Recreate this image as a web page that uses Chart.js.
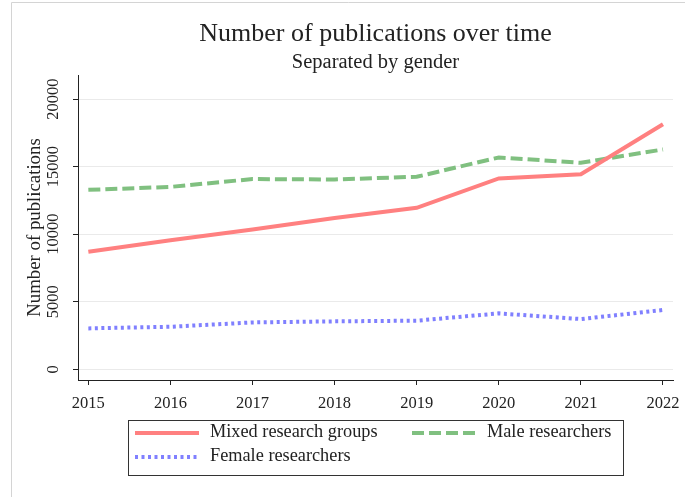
<!DOCTYPE html>
<html>
<head>
<meta charset="utf-8">
<script src="https://cdn.jsdelivr.net/npm/chart.js@4"></script>
<style>
  html, body { margin: 0; padding: 0; background: #fff; }
  canvas { display: block; }
</style>
</head>
<body>
<canvas id="pubChart" width="685" height="497"></canvas>
<script>
// ── data ──────────────────────────────────────────────────────────────────────
const years   = [2015, 2016, 2017, 2018, 2019, 2020, 2021, 2022];
const mixed   = [8700, 9550, 10350, 11200, 11950, 14130, 14440, 18140];
const male    = [13280, 13500, 14080, 14050, 14250, 15680, 15280, 16270];
const female  = [3030, 3150, 3470, 3550, 3600, 4140, 3720, 4390];
const yTicks  = [0, 5000, 10000, 15000, 20000];
const seriesLabels = ['Mixed research groups', 'Male researchers', 'Female researchers'];

const SERIF = "'Liberation Serif', 'Times New Roman', serif";
const INK   = '#222';

const toPoints = vals => years.map((y, i) => ({ x: y, y: vals[i] }));

// outer Stata-style frame (only top + left edges are visible)
const framePlugin = {
  id: 'frame',
  beforeDraw(chart) {
    const { ctx, width, height } = chart;
    ctx.save();
    ctx.strokeStyle = '#d4d4d4';
    ctx.lineWidth = 1;
    ctx.beginPath();
    ctx.moveTo(11.5, height);
    ctx.lineTo(11.5, 2.5);
    ctx.lineTo(width, 2.5);
    ctx.stroke();
    ctx.restore();
  },
};

// two-column boxed legend below the plot
const boxLegend = {
  id: 'boxLegend',
  afterDraw(chart) {
    const { ctx } = chart;
    const box   = { x: 128.5, y: 420.5, w: 495, h: 55 };
    const slots = [{ x: 135, y: 433 }, { x: 412, y: 433 }, { x: 135, y: 457 }];

    ctx.save();
    ctx.strokeStyle = '#333';
    ctx.lineWidth = 1;
    ctx.strokeRect(box.x, box.y, box.w, box.h);

    chart.data.datasets.forEach((ds, i) => {
      const s = slots[i];
      ctx.strokeStyle = ds.borderColor;
      ctx.lineWidth   = ds.borderWidth;
      ctx.setLineDash(ds.borderDash || []);
      ctx.beginPath();
      ctx.moveTo(s.x, s.y);
      ctx.lineTo(s.x + 64, s.y);
      ctx.stroke();
      ctx.setLineDash([]);

      ctx.fillStyle = INK;
      ctx.font = `18.3px ${SERIF}`;
      ctx.textBaseline = 'middle';
      ctx.textAlign = 'left';
      ctx.fillText(ds.label, s.x + 75, s.y - 1);
    });
    ctx.restore();
  },
};

new Chart(document.getElementById('pubChart'), {
  type: 'line',
  data: {
    datasets: [
      {
        label:       seriesLabels[0],
        data:        toPoints(mixed),
        borderColor: '#ff8080',
        borderWidth: 4,
      },
      {
        label:       seriesLabels[1],
        data:        toPoints(male),
        borderColor: '#80c080',
        borderWidth: 4,
        borderDash:  [12, 5],
      },
      {
        label:       seriesLabels[2],
        data:        toPoints(female),
        borderColor: '#8080ff',
        borderWidth: 4,
        borderDash:  [3, 3.5],
      },
    ],
  },
  options: {
    responsive: false,
    animation: false,
    devicePixelRatio: 1,
    elements: {
      point: { radius: 0, hoverRadius: 0 },
      line:  { tension: 0, fill: false },
    },
    layout: { padding: { left: 0, right: 12, top: 0, bottom: 77 } },
    plugins: {
      legend:  { display: false },
      tooltip: { enabled: false },
      title: {
        display:  true,
        fullSize: false,
        text:     'Number of publications over time',
        color:    INK,
        font:     { family: SERIF, size: 26, weight: 'normal', lineHeight: 1.2 },
        padding:  { top: 19, bottom: 0 },
      },
      subtitle: {
        display:  true,
        fullSize: false,
        text:     'Separated by gender',
        color:    INK,
        font:     { family: SERIF, size: 20.5, weight: 'normal', lineHeight: 1.2 },
        padding:  { top: 0, bottom: 0.2 },
      },
    },
    scales: {
      x: {
        type: 'linear',
        min:  2014.874,
        max:  2022.122,
        afterBuildTicks: s => { s.ticks = years.map(v => ({ value: v })); },
        afterFit:        s => { s.height = 40; s.paddingLeft = 0; s.paddingRight = 0; },
        grid:   { drawOnChartArea: false, tickLength: 5, tickColor: INK },
        border: { color: INK, width: 1 },
        ticks:  {
          color: INK,
          padding: 9,
          maxRotation: 0,
          font: { family: SERIF, size: 16.5 },
          callback: v => String(v),
        },
      },
      y: {
        min: -790,
        max: 21780,
        afterBuildTicks: s => { s.ticks = yTicks.map(v => ({ value: v })); },
        afterFit:        s => { s.width = 78; s.paddingTop = 0; s.paddingBottom = 0; },
        grid:   { color: '#eaeaea', lineWidth: 1, tickLength: 5, tickColor: INK },
        border: { color: INK, width: 1 },
        ticks:  {
          color: INK,
          minRotation: 90,
          maxRotation: 90,
          crossAlign: 'center',
          padding: -1,
          font: { family: SERIF, size: 16.5 },
          callback: v => String(v),
        },
        title: {
          display: true,
          text:    'Number of publications',
          color:   INK,
          font:    { family: SERIF, size: 18.8, lineHeight: 1.2 },
          padding: { top: 24, bottom: 0 },
        },
      },
    },
  },
  plugins: [framePlugin, boxLegend],
});
</script>
</body>
</html>
